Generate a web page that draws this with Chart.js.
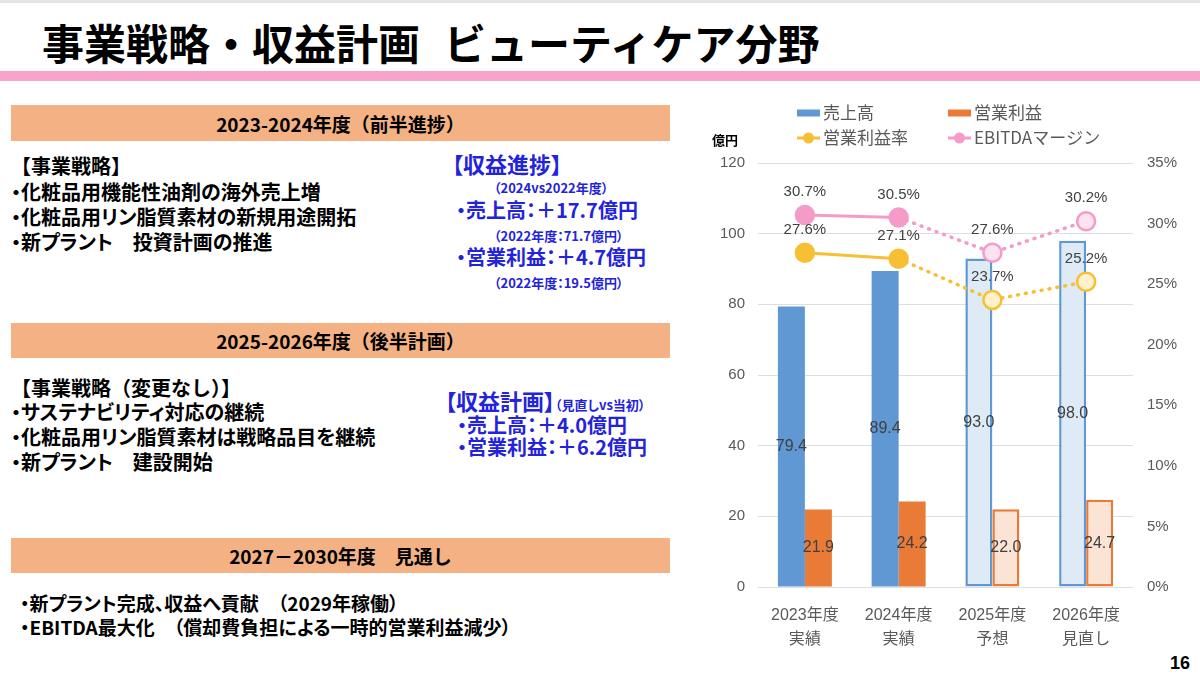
<!DOCTYPE html>
<html lang="ja">
<head>
<meta charset="utf-8">
<script src="https://cdn.jsdelivr.net/npm/chart.js@4.4.1/dist/chart.umd.min.js"></script>
<style>
  html, body { margin: 0; padding: 0; }
  body {
    width: 1200px; height: 674px; position: relative; overflow: hidden;
    background: #fff; color: #000;
    font-family: "Noto Sans CJK JP", sans-serif;
  }
  .abs { position: absolute; white-space: nowrap; line-height: 1; }
  .topline { left: 0; top: 0; width: 1200px; height: 3px; background: #e4e4e4; }
  .title { left: 42px; top: 21px; font-size: 42px; font-weight: 700; }
  .pinkbar { left: 0; top: 71px; width: 1200px; height: 10px; background: #f7a3cb; }
  .head {
    left: 11px; width: 659px; background: #f4b183;
    font-size: 19px; font-weight: 700; text-align: center;
    display: flex; align-items: center; justify-content: center;
  }
  .txt { font-size: 20px; font-weight: 700; font-feature-settings: "palt"; }
  .full { font-feature-settings: normal; }
  .blue { color: #2323dc; font-weight: 700; font-feature-settings: "palt"; }
  .big { font-size: 22px; }
  .mid { font-size: 20px; }
  .small { font-size: 13px; }
  .pnum { left: 1170px; top: 654px; font-size: 18px; font-weight: 700; font-family: "Liberation Sans", sans-serif; }
  #chartBox { position: absolute; left: 700px; top: 95px; width: 500px; height: 560px; }
</style>
</head>
<body>
<div class="abs topline"></div>
<div class="abs title">事業戦略・収益計画<span style="margin-left:24px">ビューティケア分野</span></div>
<div class="abs pinkbar"></div>

<div class="abs head" style="top:105px;height:36px">2023-2024年度（前半進捗）</div>
<div class="abs txt full" style="left:11px;top:156px">【事業戦略】</div>
<div class="abs txt" style="left:11px;top:182px">・化粧品用機能性油剤の海外売上増</div>
<div class="abs txt" style="left:11px;top:207px">・化粧品用リン脂質素材の新規用途開拓</div>
<div class="abs txt" style="left:11px;top:232px">・新プラント　投資計画の推進</div>

<div class="abs blue big" style="left:452px;top:152px">【収益進捗】</div>
<div class="abs blue small" style="left:494px;top:181px">（2024vs2022年度）</div>
<div class="abs blue mid" style="left:456px;top:200px">・売上高：＋17.7億円</div>
<div class="abs blue small" style="left:494px;top:229px">（2022年度：71.7億円）</div>
<div class="abs blue mid" style="left:456px;top:247px">・営業利益：＋4.7億円</div>
<div class="abs blue small" style="left:494px;top:276px">（2022年度：19.5億円）</div>

<div class="abs head" style="top:323px;height:35px">2025-2026年度（後半計画）</div>
<div class="abs txt full" style="left:11px;top:378px">【事業戦略（変更なし）】</div>
<div class="abs txt" style="left:11px;top:402px">・サステナビリティ対応の継続</div>
<div class="abs txt" style="left:11px;top:427px">・化粧品用リン脂質素材は戦略品目を継続</div>
<div class="abs txt" style="left:11px;top:452px">・新プラント　建設開始</div>

<div class="abs blue big" style="left:445px;top:389px">【収益計画】<span class="small">（見直しvs当初）</span></div>
<div class="abs blue mid" style="left:457px;top:415px">・売上高：＋4.0億円</div>
<div class="abs blue mid" style="left:457px;top:437px">・営業利益：＋6.2億円</div>

<div class="abs head" style="top:538px;height:35px">2027－2030年度　見通し</div>
<div class="abs txt" style="left:20px;top:593px;font-size:19px">・新プラント完成、収益へ貢献　（2029年稼働）</div>
<div class="abs txt" style="left:20px;top:617px;font-size:19px">・EBITDA最大化　（償却費負担による一時的営業利益減少）</div>

<div class="abs pnum">16</div>

<div id="chartBox"><canvas id="mixChart"></canvas></div>

<script>
const categories = [["2023年度", "実績"], ["2024年度", "実績"], ["2025年度", "予想"], ["2026年度", "見直し"]];
const sales = [79.4, 89.4, 93.0, 98.0];
const operatingProfit = [21.9, 24.2, 22.0, 24.7];
const operatingMargin = [27.6, 27.1, 23.7, 25.2];
const ebitdaMargin = [30.7, 30.5, 27.6, 30.2];
const isForecast = [false, false, true, true];
const leftTicks = { min: 0, max: 120, step: 20 };
const rightTicks = { min: 0, max: 35, step: 5 };

const BLUE = "#5f98d2", BLUE_LIGHT = "#deebf7";
const ORANGE = "#ea7b36", ORANGE_LIGHT = "#fbe4d6";
const YELLOW = "#f6bf34", YELLOW_LIGHT = "#fef1cc";
const PINK = "#f49bc9", PINK_LIGHT = "#fde2f0";
const TEXT = "#595959";

Chart.defaults.font.family = '"Liberation Sans", "Noto Sans CJK JP", sans-serif';
Chart.defaults.color = TEXT;

function barSet(label, data, solid, light) {
  return {
    type: "bar", label, data, yAxisID: "y", order: 2,
    backgroundColor: isForecast.map((f) => (f ? light : solid)),
    borderColor: solid,
    borderWidth: isForecast.map((f) => (f ? 2.5 : 0)),
    borderSkipped: false,
    categoryPercentage: 0.576,
    barPercentage: 1,
  };
}

function lineSet(label, data, solid, light) {
  return {
    type: "line", label, data, yAxisID: "y1", order: 0,
    borderColor: solid, borderWidth: 3, borderCapStyle: "round",
    pointRadius: 9, pointBorderWidth: 2.5,
    pointBackgroundColor: isForecast.map((f) => (f ? light : solid)),
    pointBorderColor: solid,
    segment: {
      borderDash: (c) => (isForecast[c.p1DataIndex] ? [1, 7] : undefined),
      borderWidth: (c) => (isForecast[c.p1DataIndex] ? 3.5 : 3),
    },
  };
}

// value labels: bars in the middle, lines above the marker
const valueLabels = {
  id: "valueLabels",
  afterDatasetsDraw(chart) {
    const ctx = chart.ctx;
    ctx.save();
    ctx.fillStyle = "#404040";
    ctx.textAlign = "center";
    ctx.textBaseline = "middle";
    chart.data.datasets.forEach((ds, i) => {
      const meta = chart.getDatasetMeta(i);
      meta.data.forEach((el, j) => {
        const v = ds.data[j];
        if (ds.type === "bar") {
          ctx.font = '16px "Liberation Sans", sans-serif';
          ctx.fillText(v.toFixed(1), el.x, (el.y + el.base) / 2);
        } else {
          ctx.font = '15px "Liberation Sans", sans-serif';
          ctx.fillText(v.toFixed(1) + "%", el.x, el.y - 23);
        }
      });
    });
    ctx.restore();
  },
};

// two-row legend and the unit label above the left axis
const topLegend = {
  id: "topLegend",
  afterDraw(chart) {
    const ctx = chart.ctx;
    ctx.save();
    ctx.textBaseline = "middle";
    chart.data.datasets.forEach((ds, i) => {
      const x = i % 2 ? 248 : 97;
      const y = i < 2 ? 18 : 43;
      if (ds.type === "bar") {
        ctx.fillStyle = ds.borderColor;
        ctx.fillRect(x, y - 3.5, 23, 7);
      } else {
        ctx.strokeStyle = ds.borderColor;
        ctx.lineWidth = 3;
        ctx.beginPath();
        ctx.moveTo(x, y);
        ctx.lineTo(x + 23, y);
        ctx.stroke();
        ctx.fillStyle = ds.borderColor;
        ctx.beginPath();
        ctx.arc(x + 11.5, y, 5.5, 0, Math.PI * 2);
        ctx.fill();
      }
      ctx.fillStyle = TEXT;
      ctx.font = '17px "Noto Sans CJK JP", sans-serif';
      ctx.fillText(ds.label, x + 26, y);
    });
    ctx.fillStyle = "#000";
    ctx.font = 'bold 13px "Noto Sans CJK JP", sans-serif';
    ctx.fillText("億円", 12, 45);
    ctx.restore();
  },
};

new Chart(document.getElementById("mixChart"), {
  type: "bar",
  data: {
    labels: categories,
    datasets: [
      barSet("売上高", sales, BLUE, BLUE_LIGHT),
      barSet("営業利益", operatingProfit, ORANGE, ORANGE_LIGHT),
      lineSet("営業利益率", operatingMargin, YELLOW, YELLOW_LIGHT),
      lineSet("EBITDAマージン", ebitdaMargin, PINK, PINK_LIGHT),
    ],
  },
  options: {
    responsive: true,
    maintainAspectRatio: false,
    animation: false,
    layout: { padding: { top: 68, left: 0, right: 0, bottom: 0 } },
    plugins: { legend: { display: false }, tooltip: { enabled: false } },
    scales: {
      x: {
        grid: { display: false },
        border: { display: false },
        ticks: { color: TEXT, font: { size: 16, lineHeight: 1.5 }, padding: 9, maxRotation: 0 },
        afterFit: (s) => { s.height = 68; },
      },
      y: {
        position: "left",
        min: leftTicks.min, max: leftTicks.max,
        ticks: { stepSize: leftTicks.step, color: TEXT, font: { size: 15 }, padding: 13 },
        grid: { color: "#dedede", drawTicks: false },
        border: { display: false },
        afterFit: (s) => { s.width = 58; },
      },
      y1: {
        position: "right",
        min: rightTicks.min, max: rightTicks.max,
        ticks: { stepSize: rightTicks.step, color: TEXT, font: { size: 15 }, padding: 14, callback: (v) => v + "%" },
        grid: { display: false, drawTicks: false },
        border: { display: false },
        afterFit: (s) => { s.width = 67; },
      },
    },
  },
  plugins: [valueLabels, topLegend],
});
</script>
</body>
</html>
